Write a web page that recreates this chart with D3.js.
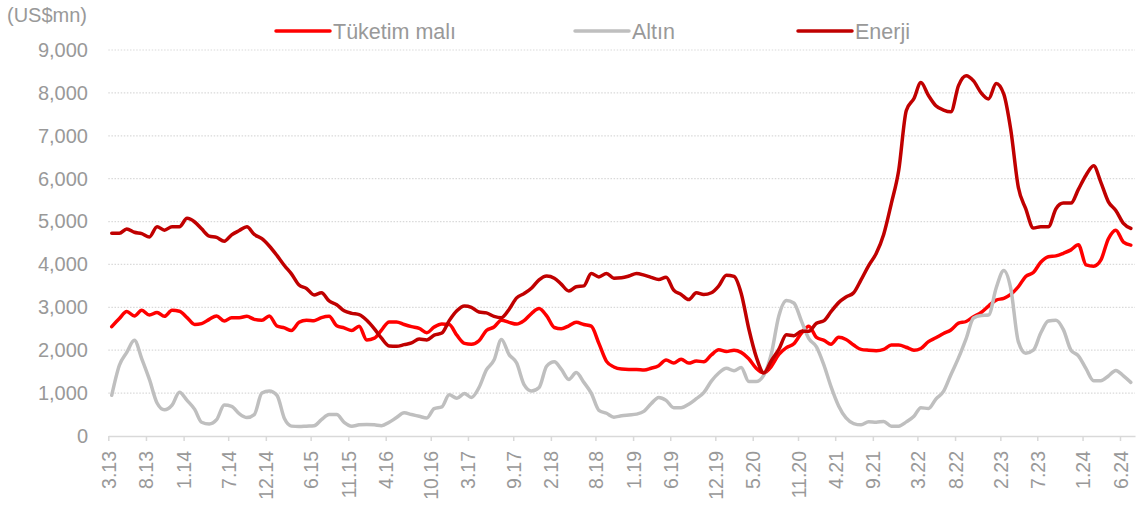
<!DOCTYPE html>
<html>
<head>
<meta charset="utf-8">
<script src="https://cdn.jsdelivr.net/npm/d3@7"></script>
<style>
  body { margin: 0; background: #fff; }
  svg { display: block; font-family: "Liberation Sans", Arial, sans-serif; }
</style>
</head>
<body>
<svg id="chart" width="1137" height="505"></svg>
<script>
// monthly readings, first one is March 2013
const firstMonth = [2013, 3];

const tuketim = [
  2550, 2740, 2900, 2800, 2930, 2820, 2880, 2790, 2930, 2910, 2760, 2600, 2620, 2720, 2800, 2680, 2760, 2760, 2790, 2720,
  2700, 2800, 2565, 2520, 2460, 2650, 2700, 2690, 2760, 2790, 2570, 2520, 2460, 2560, 2240, 2280, 2470, 2660, 2660, 2600,
  2550, 2510, 2410, 2540, 2610, 2600, 2350, 2160, 2140, 2220, 2460, 2540, 2700, 2650, 2610, 2690, 2860, 2970, 2800, 2530,
  2500, 2570, 2650, 2600, 2560, 2160, 1740, 1610, 1560, 1550, 1550, 1540, 1580, 1640, 1770, 1700, 1790, 1700, 1750, 1730,
  1890, 2010, 1970, 2000, 1950, 1800, 1580, 1470, 1620, 1900, 2060, 2150, 2400, 2560, 2300, 2230, 2140, 2300, 2250, 2120,
  2020, 2000, 1990, 2020, 2120, 2120, 2070, 2000, 2040, 2200, 2290, 2390, 2470, 2630, 2670, 2780, 2880, 3030, 3170, 3210,
  3300, 3480, 3720, 3810, 4050, 4180, 4200, 4260, 4340, 4460, 3990, 3960, 4100, 4600, 4800, 4520, 4450
];

const altin = [
  950, 1650, 1950, 2230, 1800, 1320, 770, 610, 720, 1020, 830, 620, 320, 280, 380, 720, 690, 520, 430, 500,
  1000, 1050, 950, 400, 230, 220, 230, 240, 380, 500, 500, 320, 230, 260, 270, 260, 240, 320, 430, 540,
  500, 460, 420, 640, 680, 960, 880, 990, 900, 1130, 1540, 1770, 2250, 1900, 1700, 1200, 1050, 1130, 1630, 1730,
  1560, 1320, 1480, 1250, 1000, 600, 530, 440, 470, 490, 510, 580, 750, 900, 830, 660, 660, 740, 870, 1010,
  1280, 1470, 1580, 1520, 1600, 1270, 1270, 1420, 1900, 2800, 3160, 3100, 2680, 2270, 2080, 1640, 1150, 700, 420, 290,
  260, 330, 320, 340, 230, 230, 330, 460, 660, 640, 860, 1040, 1430, 1820, 2270, 2750, 2810, 2820, 3450, 3860,
  3450, 2200, 1930, 2000, 2400, 2680, 2700, 2480, 2000, 1870, 1570, 1290, 1290, 1400, 1530, 1400, 1250
];

const enerji = [
  4725, 4725, 4826, 4750, 4720, 4640, 4880, 4800, 4880, 4880, 5075, 4990, 4830, 4660, 4630, 4540, 4690, 4790, 4880, 4700,
  4600, 4430, 4210, 3970, 3780, 3520, 3440, 3290, 3340, 3150, 3060, 2920, 2860, 2830, 2700, 2500, 2280, 2100, 2090, 2130,
  2170, 2260, 2240, 2350, 2400, 2690, 2920, 3030, 3000, 2890, 2870, 2790, 2760, 2950, 3220, 3320, 3450, 3640, 3730, 3680,
  3540, 3380, 3480, 3500, 3790, 3710, 3790, 3680, 3690, 3730, 3790, 3750, 3700, 3650, 3700, 3400, 3300, 3180, 3340, 3300,
  3340, 3500, 3750, 3720, 3330, 2500, 1850, 1470, 1750, 2020, 2360, 2340, 2440, 2440, 2630, 2690, 2900, 3110, 3240, 3340,
  3640, 3975, 4260, 4700, 5420, 6190, 7590, 7870, 8240, 7940, 7700, 7600, 7560, 8170, 8400, 8280, 8000, 7860, 8220, 7970,
  7150, 5800, 5300, 4850, 4880, 4880, 5300, 5430, 5430, 5750, 6080, 6300, 5920, 5460, 5260, 4960, 4840
];

const tickLabels = [
  "3.13", "8.13", "1.14", "7.14", "12.14", "6.15", "11.15", "4.16", "10.16", "3.17", "9.17", "2.18", "8.18",
  "1.19", "6.19", "12.19", "5.20", "11.20", "4.21", "9.21", "3.22", "8.22", "2.23", "7.23", "1.24", "6.24"
];

const yTicks = [0, 1000, 2000, 3000, 4000, 5000, 6000, 7000, 8000, 9000];

const seriesNames = ["Tüketim malı", "Altın", "Enerji"];
const seriesColors = ["#ff0000", "#bfbfbf", "#c00000"];

const textColor = "#999999";
const gridColor = "#d9d9d9";

const svg = d3.select("#chart");

const labelDate = (s) => {
  const [m, y] = s.split(".").map(Number);
  return new Date(Date.UTC(2000 + y, m - 1, 1));
};

// mid-month dates for every reading
const start = new Date(Date.UTC(firstMonth[0], firstMonth[1] - 1, 15));
const dates = tuketim.map((_, i) => d3.utcMonth.offset(start, i));

const x = d3.scaleUtc()
  .domain([new Date(Date.UTC(2013, 2, 1)), new Date(Date.UTC(2024, 7, 1))])
  .range([108.3, 1135]);

const y = d3.scaleLinear()
  .domain([0, 9000])
  .range([436, 50]);

// gridlines
svg.append("g")
  .selectAll("line")
  .data(yTicks.filter(d => d > 0))
  .join("line")
  .attr("x1", x.range()[0])
  .attr("x2", x.range()[1])
  .attr("y1", d => y(d))
  .attr("y2", d => y(d))
  .attr("stroke", gridColor)
  .attr("stroke-width", 1.2)
  .attr("stroke-dasharray", "1.5,1.6");

// y axis labels
const yAxis = svg.append("g")
  .attr("transform", "translate(88,0)")
  .call(d3.axisLeft(y).tickValues(yTicks).tickFormat(d3.format(",")).tickSize(0).tickPadding(0))
  .call(g => g.select(".domain").remove());

yAxis.selectAll("text")
  .attr("fill", textColor)
  .attr("font-size", 20)
  .attr("font-family", "Liberation Sans, Arial, sans-serif");

svg.append("text")
  .attr("x", 7)
  .attr("y", 22)
  .attr("fill", textColor)
  .attr("font-size", 20)
  .text("(US$mn)");

// x axis
const xAxis = svg.append("g")
  .attr("transform", `translate(0,${y(0)})`)
  .call(d3.axisBottom(x)
    .tickValues(tickLabels.map(labelDate))
    .tickFormat((d, i) => tickLabels[i])
    .tickSize(5)
    .tickPadding(0)
    .tickSizeOuter(0));

xAxis.select(".domain")
  .attr("stroke", gridColor)
  .attr("stroke-width", 1.5);

xAxis.selectAll(".tick line")
  .attr("stroke", gridColor)
  .attr("stroke-width", 1.5);

xAxis.selectAll(".tick text")
  .attr("fill", textColor)
  .attr("font-size", 19.5)
  .attr("font-family", "Liberation Sans, Arial, sans-serif")
  .attr("transform", "rotate(-90)")
  .attr("text-anchor", "end")
  .attr("x", -15)
  .attr("y", 0)
  .attr("dy", "0.36em");

// lines
const line = d3.line()
  .x((d, i) => x(dates[i]))
  .y(d => y(d))
  .curve(d3.curveMonotoneX);

svg.append("g")
  .selectAll("path")
  .data([tuketim, altin, enerji])
  .join("path")
  .attr("fill", "none")
  .attr("stroke", (d, i) => seriesColors[i])
  .attr("stroke-width", 3.5)
  .attr("stroke-linejoin", "round")
  .attr("stroke-linecap", "round")
  .attr("d", line);

// legend
const legendX = [276, 575, 798];

const legend = svg.append("g")
  .selectAll("g")
  .data(seriesNames)
  .join("g")
  .attr("transform", (d, i) => `translate(${legendX[i]},31)`);

legend.append("line")
  .attr("x1", 0)
  .attr("x2", 54)
  .attr("stroke", (d, i) => seriesColors[i])
  .attr("stroke-width", 3.5)
  .attr("stroke-linecap", "round");

legend.append("text")
  .attr("x", 57)
  .attr("dy", "0.36em")
  .attr("fill", textColor)
  .attr("font-size", 21.5)
  .text(d => d);
</script>
</body>
</html>
